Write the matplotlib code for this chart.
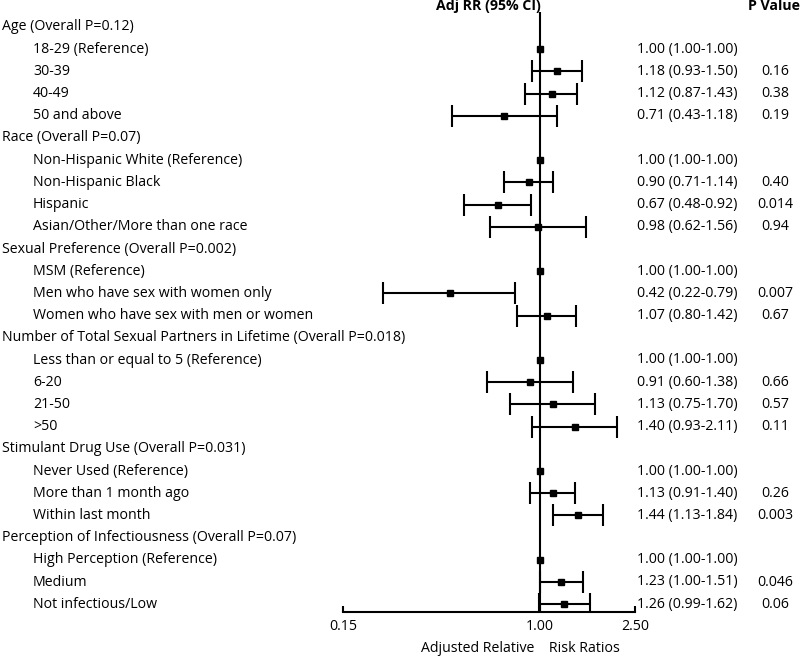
import matplotlib
matplotlib.use("Agg")
import matplotlib.pyplot as plt
import matplotlib.transforms as mtransforms
import numpy as np

plt.rcParams["font.family"] = ["Open Sans", "DejaVu Sans"]

# ---------------------------------------------------------------------------
# Data
# ---------------------------------------------------------------------------
labels = [
    "Age (Overall P=0.12)",
    "18-29 (Reference)", "30-39", "40-49", "50 and above",
    "Race (Overall P=0.07)",
    "Non-Hispanic White (Reference)", "Non-Hispanic Black", "Hispanic",
    "Asian/Other/More than one race",
    "Sexual Preference (Overall P=0.002)",
    "MSM (Reference)", "Men who have sex with women only",
    "Women who have sex with men or women",
    "Number of Total Sexual Partners in Lifetime (Overall P=0.018)",
    "Less than or equal to 5 (Reference)", "6-20", "21-50", ">50",
    "Stimulant Drug Use (Overall P=0.031)",
    "Never Used (Reference)", "More than 1 month ago", "Within last month",
    "Perception of Infectiousness (Overall P=0.07)",
    "High Perception (Reference)", "Medium", "Not infectious/Low",
]
is_header = [
    True, False, False, False, False,
    True, False, False, False, False,
    True, False, False, False,
    True, False, False, False, False,
    True, False, False, False,
    True, False, False, False,
]
rr = [
    None, 1.00, 1.18, 1.12, 0.71,
    None, 1.00, 0.90, 0.67, 0.98,
    None, 1.00, 0.42, 1.07,
    None, 1.00, 0.91, 1.13, 1.40,
    None, 1.00, 1.13, 1.44,
    None, 1.00, 1.23, 1.26,
]
lo = [
    None, 1.00, 0.93, 0.87, 0.43,
    None, 1.00, 0.71, 0.48, 0.62,
    None, 1.00, 0.22, 0.80,
    None, 1.00, 0.60, 0.75, 0.93,
    None, 1.00, 0.91, 1.13,
    None, 1.00, 1.00, 0.99,
]
hi = [
    None, 1.00, 1.50, 1.43, 1.18,
    None, 1.00, 1.14, 0.92, 1.56,
    None, 1.00, 0.79, 1.42,
    None, 1.00, 1.38, 1.70, 2.11,
    None, 1.00, 1.40, 1.84,
    None, 1.00, 1.51, 1.62,
]
pvals = [
    "", "", "0.16", "0.38", "0.19",
    "", "", "0.40", "0.014", "0.94",
    "", "", "0.007", "0.67",
    "", "", "0.66", "0.57", "0.11",
    "", "", "0.26", "0.003",
    "", "", "0.046", "0.06",
]
xticks = [0.15, 1.00, 2.50]

# ---------------------------------------------------------------------------
# Layout
# ---------------------------------------------------------------------------
W, H = 800, 657
FS = 10.2
fig = plt.figure(figsize=(W / 100, H / 100), dpi=100)

ax_left, ax_right = 343, 635      # pixel x of 0.15 and 2.50
ax_top, ax_bottom = 12, 612       # pixel y of axes box
ax = fig.add_axes([ax_left / W, 1 - ax_bottom / H,
                   (ax_right - ax_left) / W, (ax_bottom - ax_top) / H])

row0, dy = 27, 22.2                 # pixel y of first row, row spacing
ax.set_xscale("log")
ax.set_xlim(0.15, 2.5)
ax.set_ylim((ax_bottom - row0) / dy, (ax_top - row0) / dy)

for side in ["top", "right", "left"]:
    ax.spines[side].set_visible(False)
ax.spines["bottom"].set_linewidth(1.5)
ax.set_yticks([])
ax.set_xticks(xticks)
ax.set_xticklabels([f"{t:.2f}" for t in xticks], fontsize=FS)
ax.xaxis.set_minor_locator(matplotlib.ticker.NullLocator())
ax.tick_params(axis="x", direction="in", length=4, width=1.5, pad=5)

ax.axvline(1.0, color="black", lw=1.5, zorder=1)

n = len(labels)
ys = np.arange(n)
for i in range(n):
    if rr[i] is None:
        continue
    if hi[i] > lo[i]:
        ax.errorbar(rr[i], ys[i], xerr=[[rr[i] - lo[i]], [hi[i] - rr[i]]],
                    fmt="none", ecolor="black", elinewidth=1.5,
                    capsize=8, capthick=1.5, zorder=2)
    ax.plot(rr[i], ys[i], marker="s", ms=4.5, color="black", zorder=3)

blend = mtransforms.blended_transform_factory(fig.transFigure, ax.transData)
for i in range(n):
    x = 2 / W if is_header[i] else 33 / W
    ax.text(x, ys[i], labels[i], transform=blend, ha="left", va="center",
            fontsize=FS, clip_on=False)
    if rr[i] is not None:
        ax.text(637 / W, ys[i], f"{rr[i]:.2f} ({lo[i]:.2f}-{hi[i]:.2f})",
                transform=blend, ha="left", va="center", fontsize=FS,
                clip_on=False)
        if pvals[i]:
            ax.text(775 / W, ys[i], pvals[i], transform=blend, ha="center",
                    va="center", fontsize=FS, clip_on=False)

head_y = (6 - row0) / dy
ax.text(541 / W, head_y, "Adj RR (95% CI)", transform=blend, ha="right",
        va="center", fontsize=FS, fontweight="bold", clip_on=False)
ax.text(800 / W, head_y, "P Value", transform=blend, ha="right",
        va="center", fontsize=FS, fontweight="bold", clip_on=False)

fig.text(520 / W, 1 - 648 / H, "Adjusted Relative    Risk Ratios",
         ha="center", va="center", fontsize=FS)

fig.savefig("out.png", dpi=100)
